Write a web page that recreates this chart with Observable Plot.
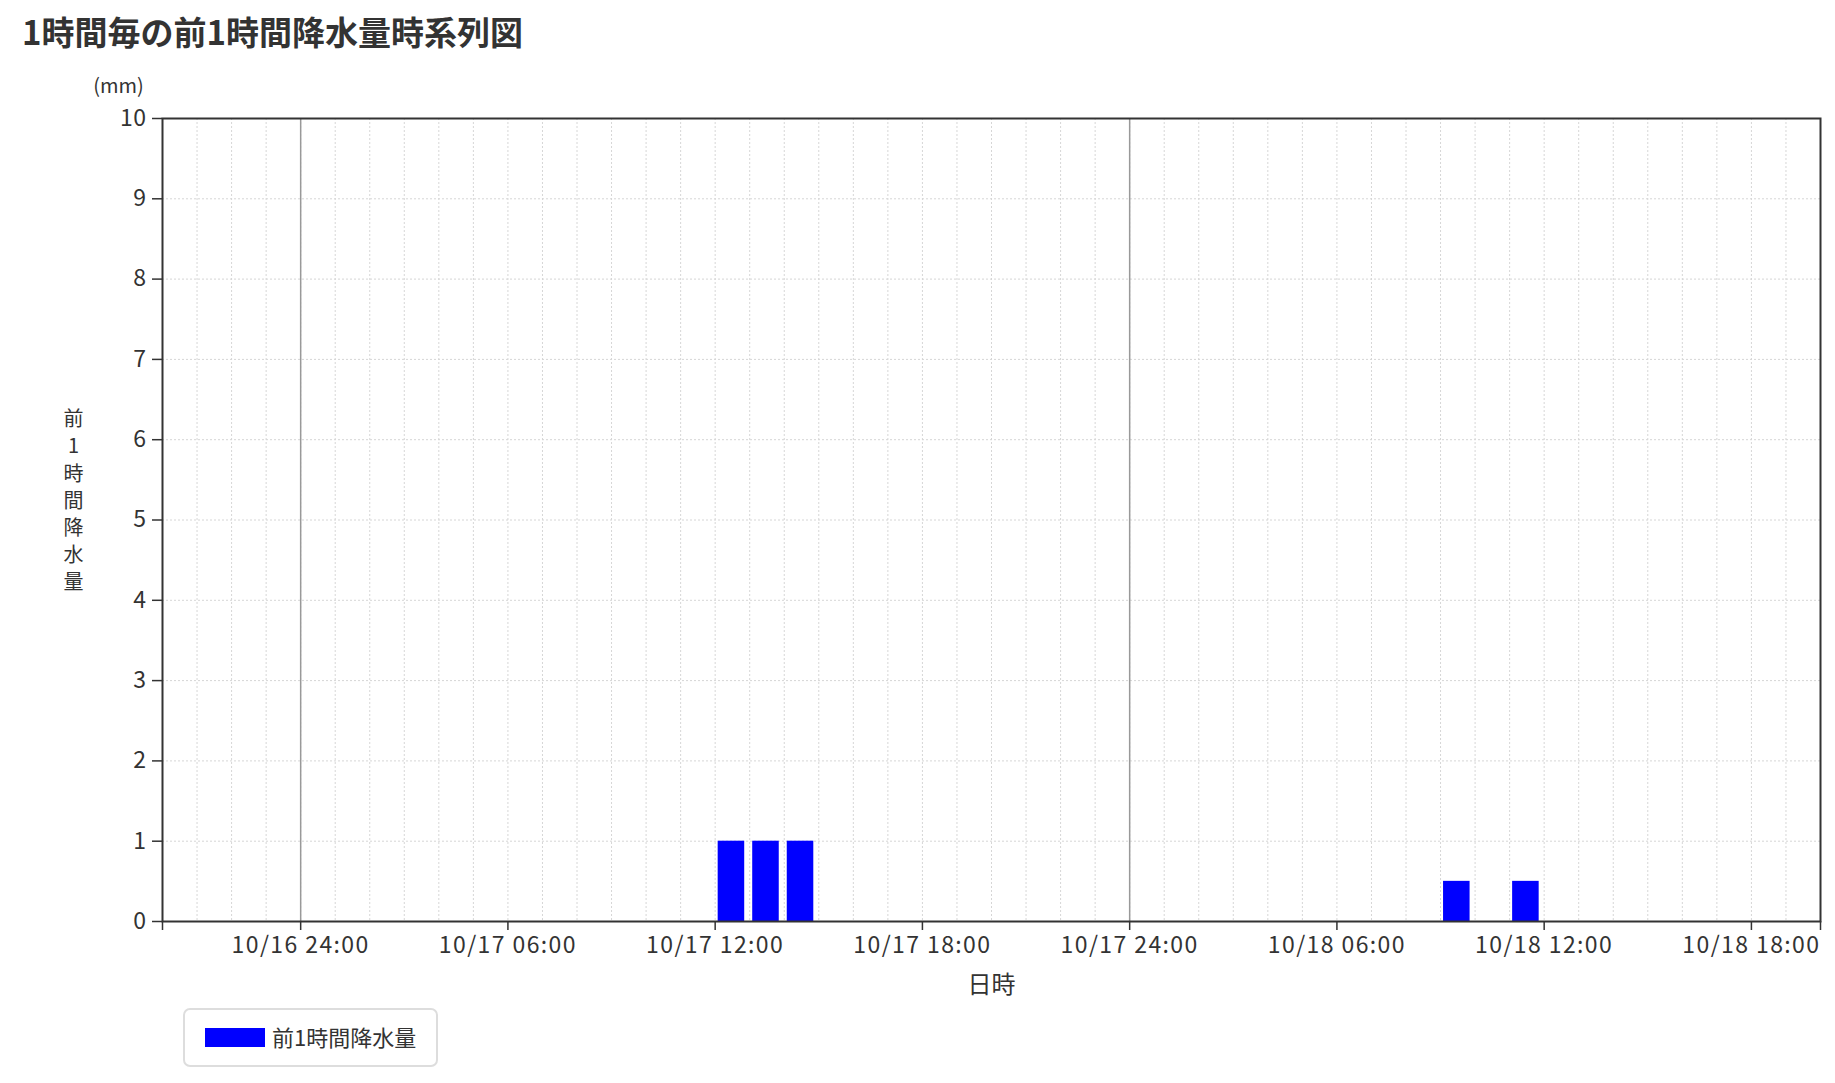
<!DOCTYPE html>
<html><head><meta charset="utf-8">
<script src="https://cdn.jsdelivr.net/npm/d3@7"></script>
<script src="https://cdn.jsdelivr.net/npm/@observablehq/plot@0.6"></script>
<style>
body{margin:0;background:#fff;font-family:"Noto Sans CJK JP","Noto Sans",sans-serif;color:#333;}
#wrap{position:relative;width:1835px;height:1083px;}
#title{position:absolute;left:22px;top:7px;font-size:33px;font-weight:bold;color:#333;white-space:nowrap;}
#chart{position:absolute;left:0;top:0;}
#chart svg g[aria-label="x-axis tick label"] text{letter-spacing:1.4px;}
#chart svg g[aria-label="y-axis tick label"] text{letter-spacing:0.5px;}
#legend{position:absolute;left:183px;top:1008px;width:251px;height:55px;border:2px solid #ddd;border-radius:7px;box-sizing:content-box;}
#legend .sw{position:absolute;left:20px;top:18px;width:60px;height:19px;background:#0000ff;}
#legend .lb{position:absolute;left:87px;top:11px;font-size:22px;line-height:30px;color:#333;white-space:nowrap;}
</style></head>
<body>
<div id="wrap">
<div id="chart"></div>
<div id="title">1時間毎の前1時間降水量時系列図</div>
<div id="legend"><div class="sw"></div><div class="lb">前1時間降水量</div></div>
</div>
<script>
// Data: end time of each 1-hour period and rainfall (mm) in that previous hour
const hourEnds = ["2024-10-17T13:00Z","2024-10-17T14:00Z","2024-10-17T15:00Z","2024-10-18T10:00Z","2024-10-18T12:00Z"];
const rain = [1, 1, 1, 0.5, 0.5];
const xDomain = ["2024-10-16T20:00Z","2024-10-18T20:00Z"];
const tickTimes = ["2024-10-17T00:00Z","2024-10-17T06:00Z","2024-10-17T12:00Z","2024-10-17T18:00Z","2024-10-18T00:00Z","2024-10-18T06:00Z","2024-10-18T12:00Z","2024-10-18T18:00Z"];
const tickLabels = ["10/16 24:00","10/17 06:00","10/17 12:00","10/17 18:00","10/17 24:00","10/18 06:00","10/18 12:00","10/18 18:00"];
const dayLines = ["2024-10-17T00:00Z","2024-10-18T00:00Z"];
const yTicks = [0,1,2,3,4,5,6,7,8,9,10];
const yLabel = "前1時間降水量";

const table = hourEnds.map((t, i) => ({end: new Date(t), v: rain[i]}));
const dom = xDomain.map(d => new Date(d));
const ticks = tickTimes.map(d => new Date(d));
const labelMap = new Map(ticks.map((d, i) => [+d, tickLabels[i]]));
const hours = d3.utcHour.range(d3.utcHour.offset(dom[0], 1), dom[1]);

const plot = Plot.plot({
  width: 1835, height: 1000,
  marginLeft: 162, marginRight: 15, marginTop: 118, marginBottom: 79,
  style: {fontFamily: '"Noto Sans CJK JP","Noto Sans",sans-serif', fontSize: "20px", color: "#333", background: "transparent"},
  x: {type: "utc", domain: dom},
  y: {domain: [0, 10]},
  marks: [
    Plot.ruleX(hours, {stroke: "#d6d6d6", strokeDasharray: "2,2", strokeWidth: 1}),
    Plot.ruleY(yTicks.slice(1, -1), {stroke: "#d6d6d6", strokeDasharray: "2,2", strokeWidth: 1}),
    Plot.ruleX(dayLines.map(d => new Date(d)), {stroke: "#999", strokeWidth: 1.5}),
    Plot.rectY(table, {x1: d => d3.utcHour.offset(d.end, -1), x2: "end", y: "v", fill: "#0000ff", insetLeft: 3, insetRight: 5}),
    Plot.frame({stroke: "#333", strokeWidth: 2}),
    Plot.axisY(yTicks, {tickSize: 10, tickPadding: 6, fontSize: 23, label: null, strokeWidth: 1.5, tickFormat: d => String(d)}),
    Plot.axisX(ticks, {tickSize: 9, tickPadding: 6, fontSize: 23, label: null, tickFormat: d => labelMap.get(+d), strokeWidth: 1.5}),
    Plot.axisX(dom, {tickSize: 9, label: null, tickFormat: () => "", strokeWidth: 1.5}),
    Plot.text(["(mm)"], {frameAnchor: "top-left", dx: -44, dy: -40, fontSize: 20, textAnchor: "middle"}),
    Plot.text(["日時"], {frameAnchor: "bottom", dy: 71, fontSize: 24}),
    Plot.text([yLabel.split("").join("\n")], {frameAnchor: "left", dx: -89, dy: -21, fontSize: 20, lineHeight: 1.36, textAnchor: "middle"})
  ]
});
document.getElementById("chart").appendChild(plot);
</script>
</body></html>
